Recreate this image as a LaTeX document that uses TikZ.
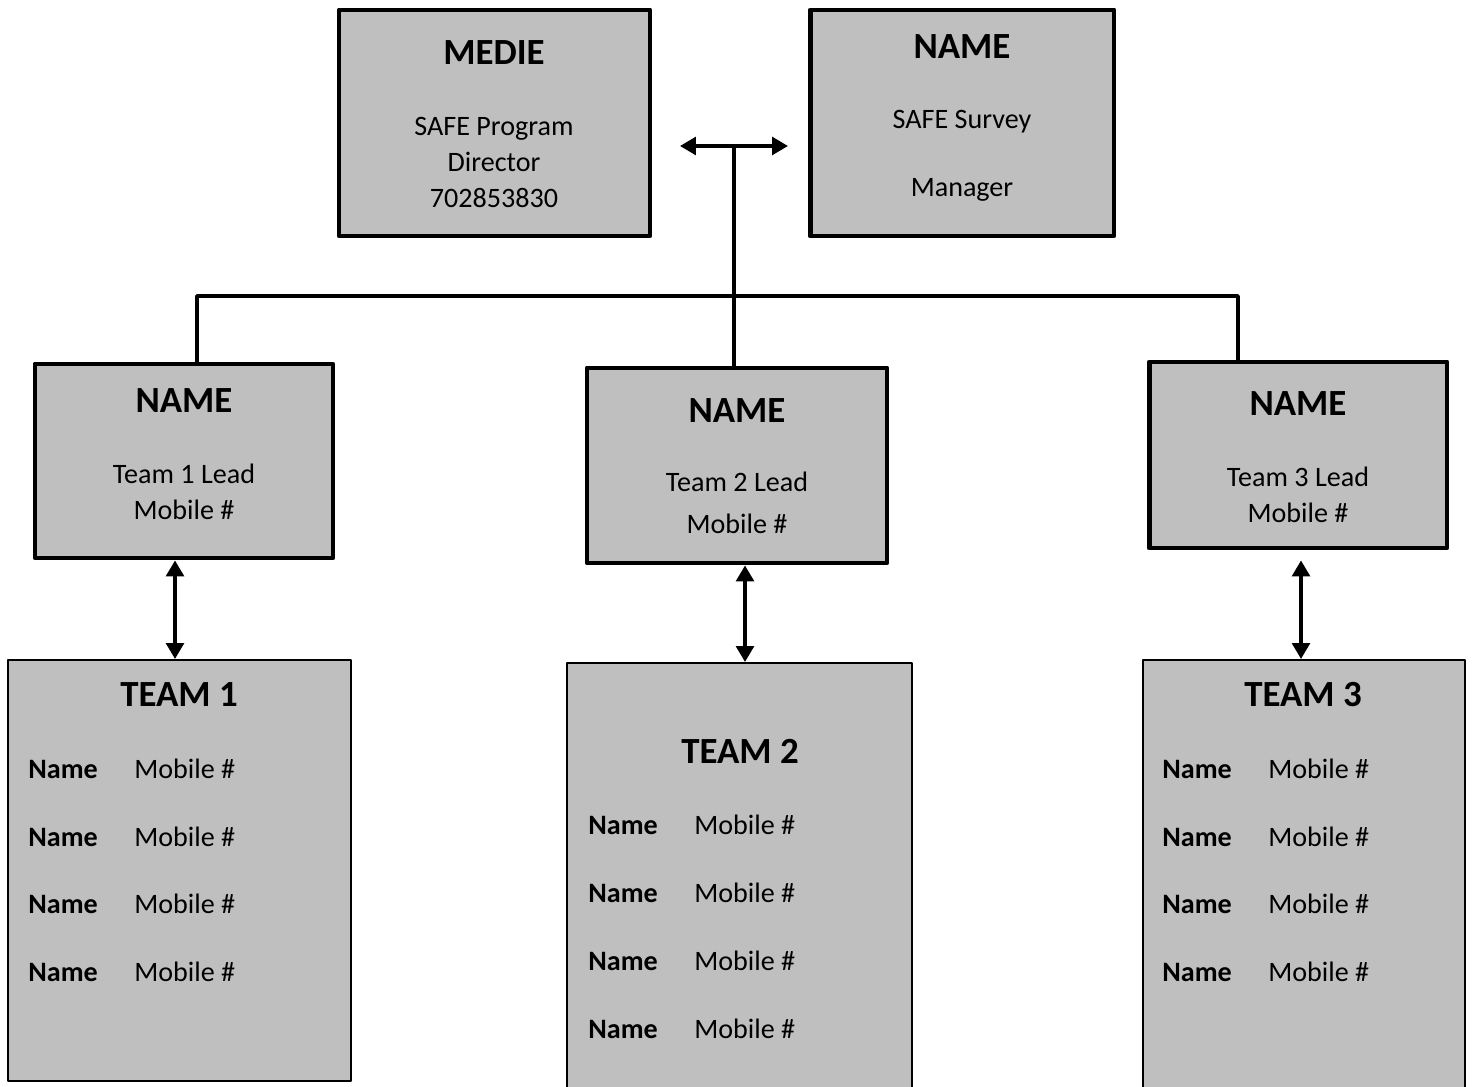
\documentclass[tikz,border=0pt]{standalone}
\usepackage{fontspec}
\setmainfont{Carlito}
\usetikzlibrary{calc}
\usetikzlibrary{arrows.meta}
\definecolor{boxgray}{rgb}{0.749,0.749,0.749}

\begin{document}
\begin{tikzpicture}[line cap=round,line join=round,>={Triangle[length=9pt,width=10pt]},x=0.02cm,y=-0.02cm,
  leadbox/.style={draw,line width=2.8pt,fill=boxgray,inner sep=0pt},
  teambox/.style={draw,line width=1.2pt,fill=boxgray,inner sep=0pt},
  title/.style={inner sep=0pt,anchor=base,font=\fontsize{21}{25}\selectfont\bfseries},
  txt/.style={inner sep=0pt,anchor=base,font=\fontsize{16}{19}\selectfont},
  link/.style={line width=2pt}]
            \useasboundingbox (0,0) rectangle (1473,1087);

            % top row
            \node [leadbox,minimum width=6.22cm,minimum height=4.52cm] (medie) at (494.5,123) {};
            \node [leadbox,minimum width=6.08cm,minimum height=4.52cm] (survey) at (962,123) {};
            % team leads
            \node [leadbox,minimum width=5.96cm,minimum height=3.88cm] (lead1) at (184,461) {};
            \node [leadbox,minimum width=6.00cm,minimum height=3.90cm] (lead2) at (737,465.5) {};
            \node [leadbox,minimum width=5.96cm,minimum height=3.72cm] (lead3) at (1298,455) {};
            % teams
            \node [teambox,minimum width=6.86cm,minimum height=8.42cm] (team1) at (179.5,870.5) {};
            \node [teambox,minimum width=6.90cm,minimum height=8.64cm] (team2) at (739.5,879) {};
            \node [teambox,minimum width=6.44cm,minimum height=8.70cm] (team3) at (1304,877.5) {};

            % texts
            \node [title] (medie-t) at (494,65) {MEDIE};
            \node [txt] (medie-a) at (494,136) {SAFE Program};
            \node [txt] (medie-b) at (494,172) {Director};
            \node [txt] (medie-c) at (494,208) {702853830};

            \node [title] (survey-t) at (962,59) {NAME};
            \node [txt] (survey-a) at (962,129) {SAFE Survey};
            \node [txt] (survey-b) at (962,197) {Manager};

            \node [title] (lead1-t) at (184,413) {NAME};
            \node [txt] (lead1-a) at (184,483) {Team 1 Lead};
            \node [txt] (lead1-b) at (184,519) {Mobile \#};

            \node [title] (lead2-t) at (737,422) {NAME};
            \node [txt] (lead2-a) at (737,491) {Team 2 Lead};
            \node [txt] (lead2-b) at (737,533) {Mobile \#};

            \node [title] (lead3-t) at (1298,416) {NAME};
            \node [txt] (lead3-a) at (1298,486) {Team 3 Lead};
            \node [txt] (lead3-b) at (1298,522) {Mobile \#};

            \node [title] (team1-t) at (179,706) {TEAM 1};
            \node [title] (team2-t) at (740,763) {TEAM 2};
            \node [title] (team3-t) at (1303,706) {TEAM 3};

            \foreach \y [count=\i] in {778,846,913,981} {
              \node [txt,anchor=base west,font=\fontsize{16}{19}\selectfont\bfseries] (t1n\i) at (28,\y) {Name};
              \node [txt,anchor=base west] (t1m\i) at (134,\y) {Mobile \#};
              \node [txt,anchor=base west,font=\fontsize{16}{19}\selectfont\bfseries] (t3n\i) at (1162,\y) {Name};
              \node [txt,anchor=base west] (t3m\i) at (1268,\y) {Mobile \#};
            }
            \foreach \y [count=\i] in {834,902,970,1038} {
              \node [txt,anchor=base west,font=\fontsize{16}{19}\selectfont\bfseries] (t2n\i) at (588,\y) {Name};
              \node [txt,anchor=base west] (t2m\i) at (694,\y) {Mobile \#};
            }

            % connectors
            \coordinate (tjoin) at (734,146);
            \coordinate (hl) at (680,146);
            \coordinate (hr) at (788,146);
            \coordinate (busl) at (197,296);
            \coordinate (busr) at (1238,296);
            \coordinate (a1) at (175,0);
            \coordinate (a2) at (745,0);
            \coordinate (a3) at (1301,0);

            \draw [<->,link] (hl) -- (hr);
            \draw [link] (tjoin) -- (lead2.north -| tjoin);
            \draw [link] (lead1.north -| busl) -- (busl) -- (busr) -- (lead3.north -| busr);
            \draw [<->,link] (lead1.south -| a1) -- (team1.north -| a1);
            \draw [<->,link] (lead2.south -| a2) -- (team2.north -| a2);
            \draw [<->,link] ($(lead3.south -| a3)+(0,10)$) -- (team3.north -| a3);
\end{tikzpicture}
\end{document}
